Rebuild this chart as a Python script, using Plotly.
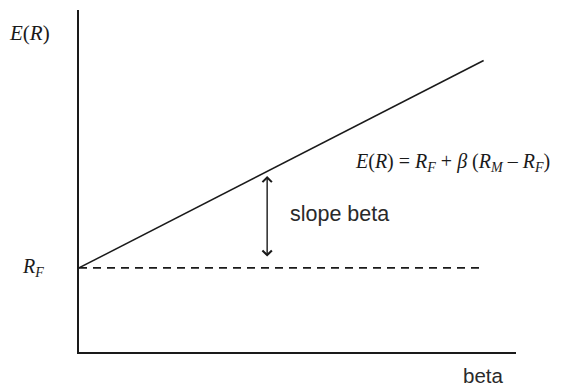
import plotly.graph_objects as go

# CAPM security market line (schematic)
beta_vals = [0.0, 2.0]
er_vals = [3.0, 10.4]
rf_beta = [0.0, 2.0]
rf_vals = [3.0, 3.0]
arrow_beta = 0.93
arrow_lo, arrow_hi = 3.35, 6.28

INK = '#1a1a1a'
SERIF = 'Liberation Serif, Times New Roman, serif'
SANS = 'Liberation Sans, Arial, sans-serif'

fig = go.Figure()

fig.add_trace(go.Scatter(x=beta_vals, y=er_vals, mode='lines',
                         line=dict(color=INK, width=1.5), hoverinfo='skip'))
fig.add_trace(go.Scatter(x=rf_beta, y=rf_vals, mode='lines',
                         line=dict(color=INK, width=1.7, dash='8px,6px'), hoverinfo='skip'))

annotations = [
    # double-headed arrow
    dict(x=arrow_beta, y=arrow_hi, ax=arrow_beta, ay=arrow_lo, xref='x', yref='y',
         axref='x', ayref='y', showarrow=True, arrowside='end+start', arrowhead=4,
         arrowsize=1.3, arrowwidth=1.4, arrowcolor=INK, text=''),
    dict(x=-0.114, y=0.933, xref='paper', yref='paper', showarrow=False,
         text='<i>E</i>(<i>R</i>)', font=dict(family=SERIF, size=21, color=INK)),
    dict(x=-0.105, y=rf_vals[0], xref='paper', yref='y', showarrow=False,
         text='<i>R<sub>F</sub></i>', font=dict(family=SERIF, size=20, color=INK)),
    dict(x=0.855, y=0.553, xref='paper', yref='paper', showarrow=False,
         text='<i>E</i>(<i>R</i>) = <i>R<sub>F</sub></i> + <i>β</i> (<i>R<sub>M</sub></i> – <i>R<sub>F</sub></i>)',
         font=dict(family=SERIF, size=20, color=INK)),
    dict(x=0.597, y=0.404, xref='paper', yref='paper', showarrow=False,
         text='slope beta', font=dict(family=SANS, size=21.5, color='#2a2a2a')),
    dict(x=0.924, y=-0.07, xref='paper', yref='paper', showarrow=False,
         text='beta', font=dict(family=SANS, size=20.5, color='#2a2a2a')),
]
for a in annotations:
    a['xanchor'] = 'center'
    a['yanchor'] = 'middle'

# page body adds an 8px offset, so margins are shifted to compensate
fig.update_layout(
    width=561, height=387,
    margin=dict(l=71, r=53, t=2, b=43),
    paper_bgcolor='white', plot_bgcolor='white',
    showlegend=False,
    annotations=annotations,
)
fig.update_xaxes(range=[0, 2.16], showline=True, linecolor=INK, linewidth=2,
                 showgrid=False, zeroline=False, showticklabels=False, ticks='')
fig.update_yaxes(range=[0, 12.2], showline=True, linecolor=INK, linewidth=2,
                 showgrid=False, zeroline=False, showticklabels=False, ticks='')

fig.write_html("out.html")
